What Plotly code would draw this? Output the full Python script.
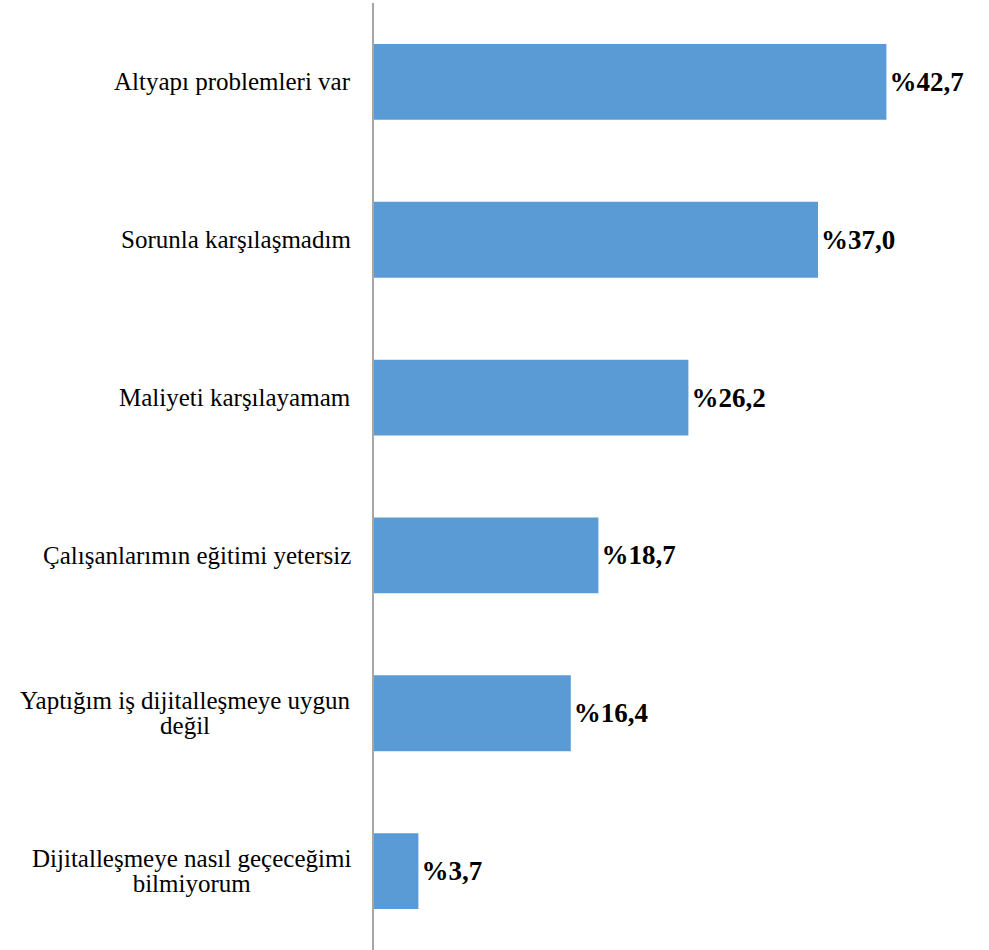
import plotly.graph_objects as go

categories = [
    "Altyapı problemleri var",
    "Sorunla karşılaşmadım",
    "Maliyeti karşılayamam",
    "Çalışanlarımın eğitimi yetersiz",
    "Yaptığım iş dijitalleşmeye uygun<br>değil",
    "Dijitalleşmeye nasıl geçeceğimi<br>bilmiyorum",
]
values = [42.7, 37.0, 26.2, 18.7, 16.4, 3.7]
value_labels = ["%42,7", "%37,0", "%26,2", "%18,7", "%16,4", "%3,7"]

FONT = "Liberation Serif"

fig = go.Figure()
fig.add_trace(go.Bar(
    y=categories,
    x=values,
    orientation="h",
    marker=dict(color="#5b9bd5", line=dict(width=0)),
    text=["<b>" + t + "</b>" for t in value_labels],
    textposition="outside",
    textfont=dict(family=FONT, size=27, color="#000000"),
    cliponaxis=False,
    hoverinfo="skip",
))

for c in categories:
    lines = c.split("<br>")
    txt = "<br>".join("<span style='font-size:25px'>" + ln + "</span>" for ln in lines)
    fig.add_annotation(
        x=0, y=c, xref="paper", yref="y",
        xanchor="right", xshift=-21,
        text=txt, showarrow=False, align="center",
        font=dict(family=FONT, size=19, color="#000000"),
    )

fig.update_layout(
    width=989, height=950,
    margin=dict(l=374, r=15, t=3, b=0),
    plot_bgcolor="white", paper_bgcolor="white",
    bargap=0.52,
    showlegend=False,
    font=dict(family=FONT),
)
fig.update_xaxes(range=[0, 50], visible=False, showgrid=False, zeroline=False)
fig.update_yaxes(autorange="reversed", showticklabels=False, ticks="",
                 showline=True, linecolor="#a6a6a6", linewidth=2,
                 showgrid=False, zeroline=False)

fig.write_html("out.html", config={"displayModeBar": False},
               post_script="document.body.style.margin='0';document.body.style.overflow='hidden';")
